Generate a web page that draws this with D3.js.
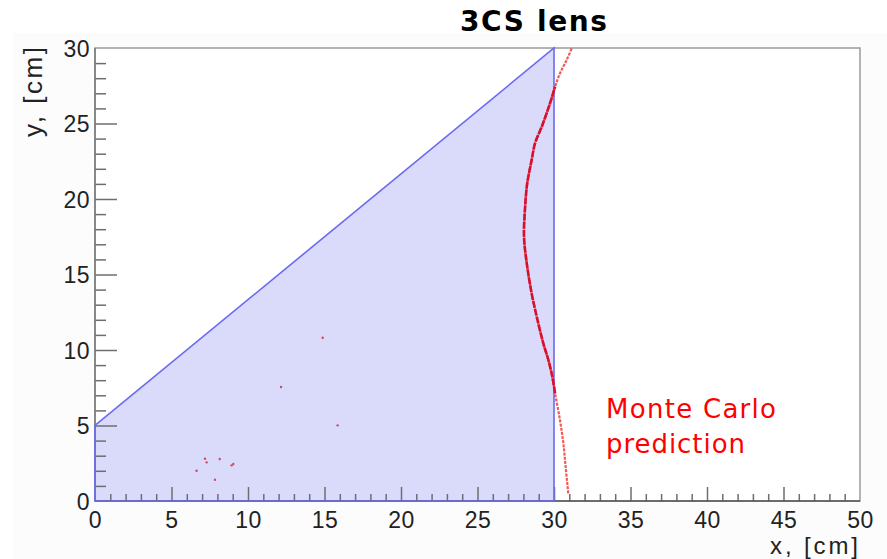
<!DOCTYPE html>
<html>
<head>
<meta charset="utf-8">
<script src="https://cdn.jsdelivr.net/npm/d3@7"></script>
<style>
  html, body { margin: 0; padding: 0; background: #ffffff; }
  svg { display: block; }
</style>
</head>
<body>
<script>
// ---- Data ----
const titleText = "3CS lens";
const xLabel = "x, [cm]";
const yLabel = "y, [cm]";
const annotationLines = ["Monte Carlo", "prediction"];

const xDomain = [0, 50];
const yDomain = [0, 30];
const xMajorTicks = [0, 5, 10, 15, 20, 25, 30, 35, 40, 45, 50];
const yMajorTicks = [0, 5, 10, 15, 20, 25, 30];

// lens outline (x, y) in cm
const lensX = [0, 0, 30, 30];
const lensY = [0, 5, 30, 0];

// Monte Carlo focal curve (x, y) in cm
const mcX = [30.93, 30.76, 30.61, 30.39, 30.07, 29.89, 29.63, 29.30, 28.87, 28.54, 28.22, 28.04, 28.10, 28.25, 28.54, 28.76, 29.20, 29.74, 30.07, 30.39, 30.83, 31.16];
const mcY = [0.51, 2.27, 3.82, 5.36, 7.13, 8.23, 9.34, 10.44, 12.21, 13.75, 15.74, 17.50, 19.27, 21.04, 22.58, 23.69, 24.79, 26.34, 27.44, 28.32, 29.21, 29.98];

// stray Monte Carlo hits
const strayX = [14.88, 12.16, 15.86, 7.19, 7.30, 8.15, 8.93, 9.04, 6.64, 7.84];
const strayY = [10.81, 7.55, 5.01, 2.80, 2.56, 2.78, 2.36, 2.45, 2.00, 1.41];

// ---- Layout ----
const W = 887, H = 559;
const svg = d3.select("body").append("svg").attr("width", W).attr("height", H);

const x = d3.scaleLinear().domain(xDomain).range([95, 860]);
const y = d3.scaleLinear().domain(yDomain).range([501, 48]);

// off-white canvas area
svg.append("rect").attr("x", 13).attr("y", 33).attr("width", W - 13).attr("height", H - 33)
  .attr("fill", "#fcfcfc");
svg.append("rect").attr("x", x(0)).attr("y", y(30)).attr("width", x(50) - x(0)).attr("height", y(0) - y(30))
  .attr("fill", "#ffffff");

// lens fill
const lensPts = lensX.map((d, i) => [x(d), y(lensY[i])]);
svg.append("polygon")
  .attr("points", lensPts.map(p => p.join(",")).join(" "))
  .attr("fill", "#dadafb").attr("stroke", "none");

// frame
svg.append("rect").attr("x", x(0)).attr("y", y(30)).attr("width", x(50) - x(0)).attr("height", y(0) - y(30))
  .attr("fill", "none").attr("stroke", "#9a9a9a").attr("stroke-width", 1.5);

const tickFont = "'Liberation Sans', Arial, Helvetica, sans-serif";
const geoFont = "'DejaVu Sans', 'Open Sans', sans-serif";

// x axis minor ticks
const xMinor = d3.range(0, 51).filter(v => v % 5 !== 0);
const gxMinor = svg.append("g").attr("transform", `translate(0,${y(0)})`)
  .call(d3.axisBottom(x).tickValues(xMinor).tickSize(-7).tickFormat(""));
// x axis major ticks
const gx = svg.append("g").attr("transform", `translate(0,${y(0)})`)
  .call(d3.axisBottom(x).tickValues(xMajorTicks).tickSize(-14).tickPadding(11).tickFormat(d3.format("d")));

// y axis minor ticks
const yMinor = d3.range(0, 31).filter(v => v % 5 !== 0);
const gyMinor = svg.append("g").attr("transform", `translate(${x(0)},0)`)
  .call(d3.axisLeft(y).tickValues(yMinor).tickSize(-11).tickFormat(""));
// y axis major ticks
const gy = svg.append("g").attr("transform", `translate(${x(0)},0)`)
  .call(d3.axisLeft(y).tickValues(yMajorTicks).tickSize(-22).tickPadding(5).tickFormat(d3.format("d")));

[gxMinor, gx, gyMinor, gy].forEach(g => {
  g.attr("font-family", null).attr("font-size", null);
  g.select(".domain").remove();
  g.selectAll(".tick line").attr("stroke", "#6e6e6e").attr("stroke-width", 1.5);
  g.selectAll(".tick text")
    .style("font-family", tickFont).style("font-size", "23px").style("letter-spacing", "0.5px")
    .attr("fill", "#222");
});
gy.selectAll(".tick text").attr("dy", "0.36em");
// hide ticks at frame edges (0 and 50 / 30)
gx.selectAll(".tick").filter(d => d === 0 || d === 50).select("line").remove();
gy.selectAll(".tick").filter(d => d === 0 || d === 30).select("line").remove();

// left and bottom axis lines (darker)
svg.append("line").attr("x1", x(0)).attr("x2", x(0)).attr("y1", y(0)).attr("y2", y(30))
  .attr("stroke", "#7a7a7a").attr("stroke-width", 1.5);
svg.append("line").attr("x1", x(0)).attr("x2", x(50)).attr("y1", y(0)).attr("y2", y(0))
  .attr("stroke", "#555").attr("stroke-width", 1.5);

// lens outline
svg.append("polygon")
  .attr("points", lensPts.map(p => p.join(",")).join(" "))
  .attr("fill", "none").attr("stroke", "#6b6bf0").attr("stroke-width", 1.6);

// Monte Carlo curve
const mcPts = mcX.map((d, i) => [d, mcY[i]]);
const line = d3.line().x(d => x(d[0])).y(d => y(d[1])).curve(d3.curveCatmullRom);
svg.append("path").datum(mcPts).attr("d", line)
  .attr("fill", "none").attr("stroke", "#f03030").attr("stroke-width", 2.2).attr("opacity", 0.8)
  .attr("stroke-dasharray", "3,1.2");
svg.append("path").datum(mcPts.filter(p => p[0] <= 30.1)).attr("d", line)
  .attr("fill", "none").attr("stroke", "#d8102e").attr("stroke-width", 2.6)
  .attr("stroke-dasharray", "7,1");

// stray hits
svg.append("g").selectAll("circle").data(strayX.map((d, i) => [d, strayY[i]])).join("circle")
  .attr("cx", d => x(d[0])).attr("cy", d => y(d[1])).attr("r", 1.2)
  .attr("fill", "#d8203a").attr("opacity", 0.8);

// axis titles
svg.append("text").attr("transform", `translate(42,${y(30) - 1}) rotate(-90)`)
  .attr("text-anchor", "end").style("font-family", tickFont).style("font-size", "26px").attr("fill", "#222")
  .attr("textLength", 90).attr("lengthAdjust", "spacing")
  .text(yLabel);
svg.append("text").attr("x", 858).attr("y", 554)
  .attr("text-anchor", "end").style("font-family", tickFont).style("font-size", "24px").attr("fill", "#222")
  .attr("textLength", 88).attr("lengthAdjust", "spacing")
  .text(xLabel);

// title
svg.append("text").attr("x", 460).attr("y", 31)
  .style("font-family", geoFont).style("font-weight", 700).style("font-size", "28px")
  .attr("textLength", 147).attr("lengthAdjust", "spacing")
  .attr("fill", "#000").text(titleText);

// annotation
const annLen = [170, 139];
svg.append("g").selectAll("text").data(annotationLines).join("text")
  .attr("x", 606).attr("y", (d, i) => 418 + i * 35)
  .style("font-family", geoFont).style("font-size", "26px").attr("fill", "#ff0000")
  .attr("textLength", (d, i) => annLen[i]).attr("lengthAdjust", "spacing")
  .text(d => d);
</script>
</body>
</html>
